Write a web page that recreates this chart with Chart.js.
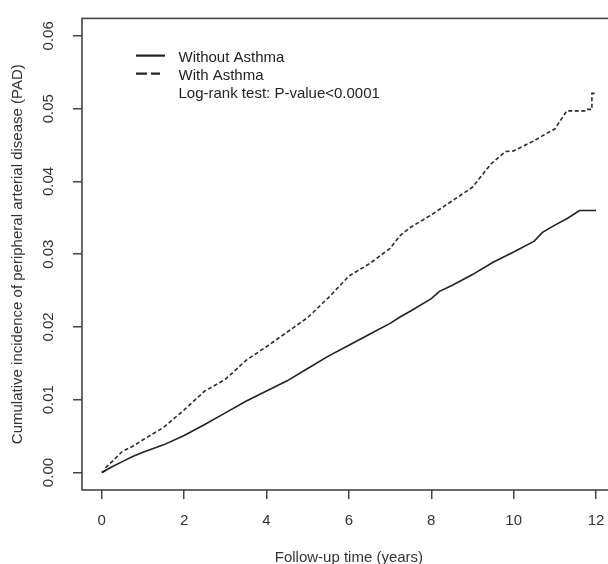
<!DOCTYPE html>
<html>
<head>
<meta charset="utf-8">
<script src="https://cdn.jsdelivr.net/npm/chart.js@4.4.1/dist/chart.umd.min.js"></script>
<style>
  html, body { margin: 0; padding: 0; background: #fff; overflow: hidden; width: 608px; height: 564px; }
  #wrap { position: absolute; left: 0; top: 0; width: 620px; height: 564px; }
</style>
</head>
<body>
<div id="wrap"><canvas id="c" width="620" height="564"></canvas></div>
<script>
// ---- Data ----
const timesWithout = [0, 0.25, 0.5, 0.75, 1, 1.5, 2, 2.5, 3, 3.5, 4, 4.5, 5, 5.5, 6, 6.5, 7, 7.25, 7.5, 8, 8.2, 8.5, 9, 9.5, 10, 10.5, 10.7, 11, 11.3, 11.6, 12];
const cumIncWithout = [0, 0.0008, 0.0015, 0.0022, 0.0028, 0.0038, 0.0051, 0.0066, 0.0082, 0.0098, 0.0112, 0.0126, 0.0143, 0.0160, 0.0175, 0.0190, 0.0205, 0.0214, 0.0222, 0.0239, 0.0249, 0.0257, 0.0272, 0.0289, 0.0303, 0.0318, 0.0330, 0.0340, 0.0349, 0.0360, 0.0360];

const timesWith = [0, 0.07, 0.1, 0.25, 0.5, 0.75, 1, 1.5, 2, 2.5, 3, 3.5, 4, 4.5, 5, 5.5, 6, 6.5, 7, 7.25, 7.5, 8, 8.5, 9, 9.45, 9.8, 10, 10.5, 10.8, 11, 11.29, 11.73, 11.76, 11.9, 11.9, 12];
const cumIncWith = [0, 0.0002, 0.0007, 0.0015, 0.0029, 0.0036, 0.0045, 0.0062, 0.0086, 0.0112, 0.0128, 0.0154, 0.0173, 0.0193, 0.0213, 0.0240, 0.0270, 0.0287, 0.0308, 0.0326, 0.0337, 0.0354, 0.0373, 0.0392, 0.0424, 0.0441, 0.0442, 0.0456, 0.0466, 0.0472, 0.0497, 0.0497, 0.0499, 0.0499, 0.0521, 0.0521];

const xTicks = [0, 2, 4, 6, 8, 10, 12];
const xTickLabels = ['0', '2', '4', '6', '8', '10', '12'];
const yTicks = [0, 0.01, 0.02, 0.03, 0.04, 0.05, 0.06];
const yTickLabels = ['0.00', '0.01', '0.02', '0.03', '0.04', '0.05', '0.06'];

const seriesNames = ['Without Asthma', 'With Asthma'];
const legendNote = 'Log-rank test: P-value<0.0001';
const xTitle = 'Follow-up time (years)';
const yTitle = 'Cumulative incidence of peripheral arterial disease (PAD)';

// ---- Styling ----
const FONT = '"Liberation Sans", Arial, Helvetica, sans-serif';
const INK = '#222';
const AXIS = '#444';

const toPoints = (xs, ys) => xs.map((x, i) => ({ x: x, y: ys[i] }));

const boxPlugin = {
  id: 'box',
  afterDatasetsDraw(chart) {
    const { ctx, chartArea: a } = chart;
    ctx.save();
    ctx.strokeStyle = AXIS;
    ctx.lineWidth = 1.6;
    ctx.strokeRect(a.left, a.top, a.right - a.left, a.bottom - a.top);
    ctx.restore();
  }
};

const legendPlugin = {
  id: 'rlegend',
  afterDraw(chart) {
    const { ctx, chartArea: a } = chart;
    const x0 = a.left + 54;
    const lineLen = 29;
    const textX = a.left + 96.5;
    const baseY = a.top + 43.7;
    const step = 18;
    ctx.save();
    ctx.font = '15px ' + FONT;
    ctx.fillStyle = INK;
    ctx.textBaseline = 'alphabetic';
    ctx.textAlign = 'left';
    const dashes = [[], [11, 4]];
    for (let i = 0; i < 3; i++) {
      const by = baseY + i * step;
      if (i < 2) {
        ctx.beginPath();
        ctx.strokeStyle = INK;
        ctx.lineWidth = 2.2;
        ctx.setLineDash(dashes[i]);
        const ly = by - 6.5;
        ctx.moveTo(x0, ly);
        ctx.lineTo(x0 + (i === 0 ? lineLen : 24), ly);
        ctx.stroke();
        ctx.setLineDash([]);
      }
      const label = i < 2 ? seriesNames[i] : legendNote;
      ctx.fillText(label, textX, by);
    }
    ctx.restore();
  }
};

new Chart(document.getElementById('c'), {
  type: 'scatter',
  data: {
    datasets: [
      {
        label: seriesNames[0],
        data: toPoints(timesWithout, cumIncWithout),
        showLine: true,
        borderColor: INK,
        borderWidth: 1.6,
        pointRadius: 0,
        tension: 0
      },
      {
        label: seriesNames[1],
        data: toPoints(timesWith, cumIncWith),
        showLine: true,
        borderColor: '#2a2a2a',
        borderWidth: 1.6,
        borderDash: [4, 2.5],
        pointRadius: 0,
        tension: 0
      }
    ]
  },
  options: {
    responsive: false,
    animation: false,
    devicePixelRatio: 1,
    layout: { padding: { left: 0, top: 13.3, right: 4.2, bottom: 0 } },
    plugins: { legend: { display: false }, tooltip: { enabled: false } },
    scales: {
      x: {
        type: 'linear',
        min: -0.48,
        max: 12.48,
        afterFit(scale) { scale.height = 74; },
        afterBuildTicks(scale) { scale.ticks = xTicks.map(v => ({ value: v })); },
        grid: { display: true, drawOnChartArea: false, drawTicks: true, tickLength: 9, color: AXIS, lineWidth: 1.5 },
        border: { display: false },
        ticks: {
          color: '#333',
          font: { family: FONT, size: 15 },
          padding: 13,
          maxRotation: 0,
          autoSkip: false,
          callback: (v) => { const i = xTicks.indexOf(v); return i >= 0 ? xTickLabels[i] : ''; }
        },
        title: {
          display: true,
          text: xTitle,
          color: '#333',
          font: { family: FONT, size: 15, lineHeight: 0.8 },
          padding: { top: 0, bottom: 0 }
        }
      },
      y: {
        type: 'linear',
        min: -0.0024,
        max: 0.0624,
        afterFit(scale) { scale.width = 82; },
        afterBuildTicks(scale) { scale.ticks = yTicks.map(v => ({ value: v })); },
        grid: { display: true, drawOnChartArea: false, drawTicks: true, tickLength: 9, color: AXIS, lineWidth: 1.5 },
        border: { display: false },
        ticks: {
          color: '#333',
          font: { family: FONT, size: 15 },
          padding: 9.4,
          minRotation: 90,
          maxRotation: 90,
          crossAlign: 'center',
          autoSkip: false,
          callback: (v) => { const i = yTicks.findIndex(t => Math.abs(t - v) < 1e-9); return i >= 0 ? yTickLabels[i] : ''; }
        },
        title: {
          display: true,
          text: yTitle,
          color: '#333',
          font: { family: FONT, size: 15, lineHeight: 1 },
          padding: { top: 10.5, bottom: 0 }
        }
      }
    }
  },
  plugins: [boxPlugin, legendPlugin]
});
</script>
</body>
</html>
